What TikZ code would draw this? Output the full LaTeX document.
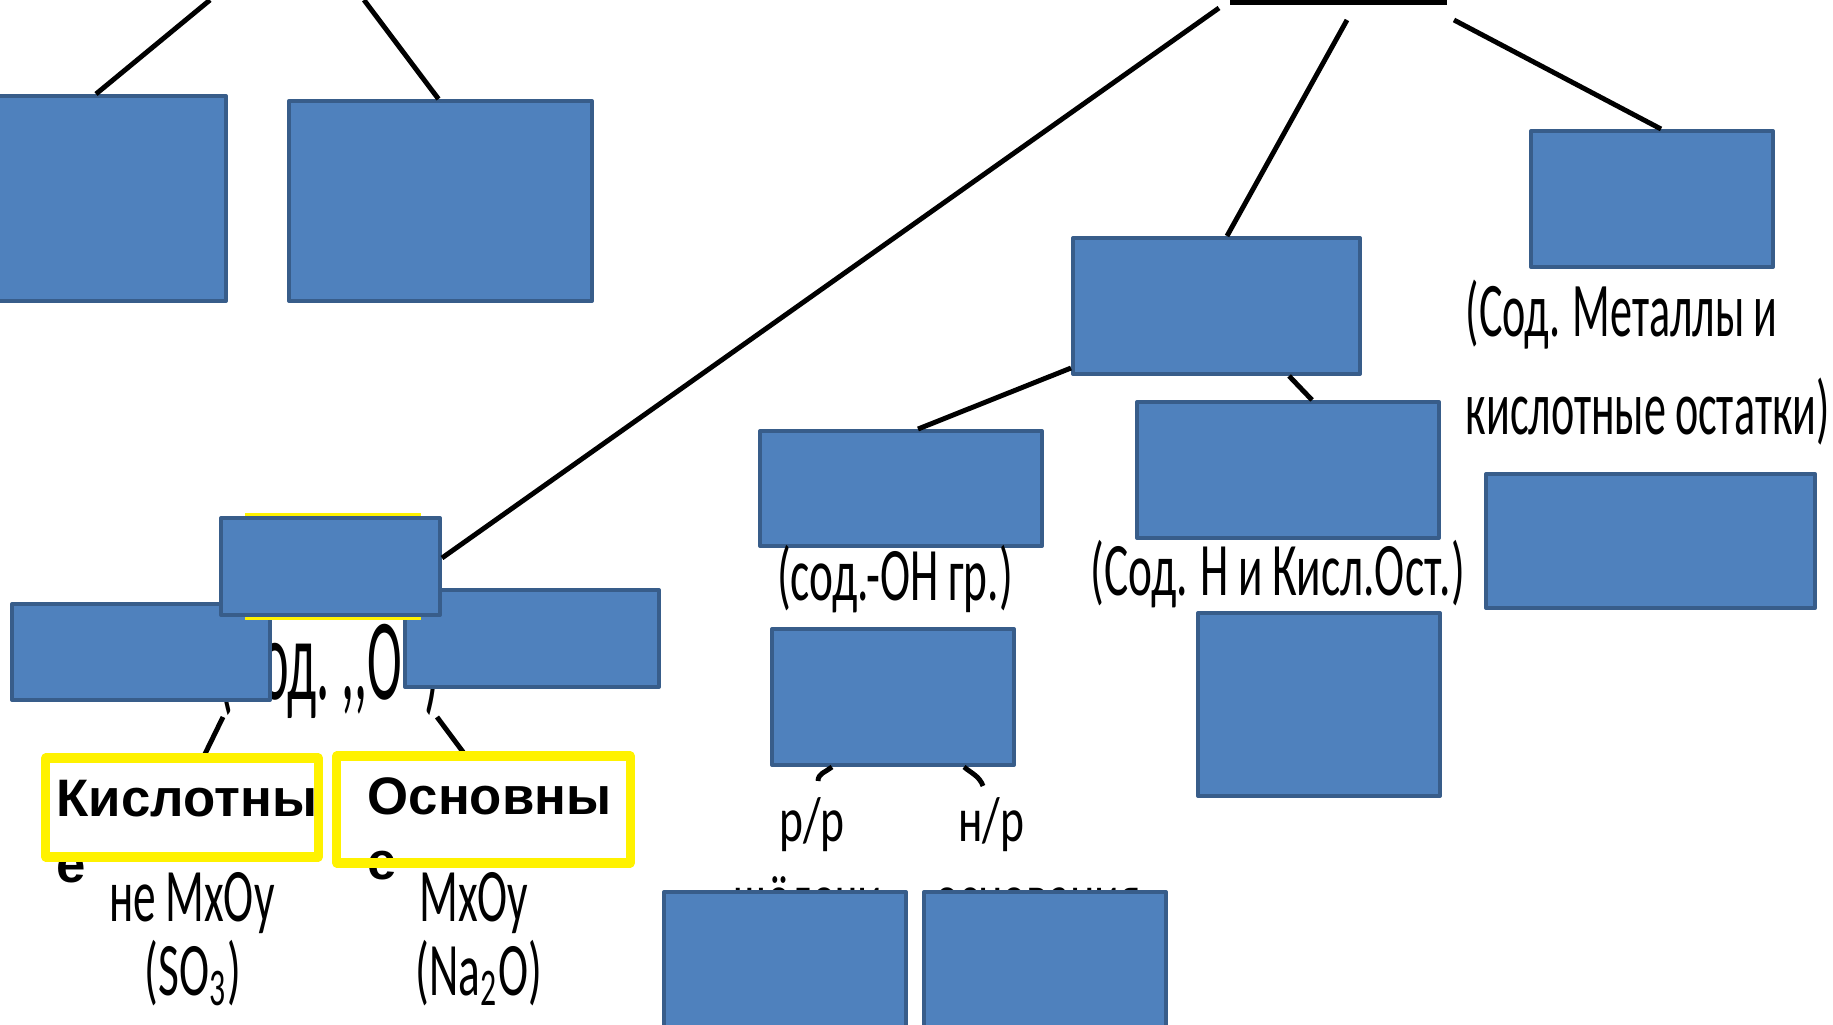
\documentclass[tikz,border=0pt]{standalone}
\usepackage{fontspec}
\newfontfamily\labfont[FakeStretch=0.72,WordSpace=0.85]{Carlito}
\newfontfamily\tallfont[FakeStretch=0.6,WordSpace=0.9]{Carlito}
\newfontfamily\metfont[FakeStretch=0.57,WordSpace=0.9]{Carlito}
\newfontfamily\oxfont[FakeStretch=0.45,WordSpace=0.7]{Carlito}
\newfontfamily\yfont{Liberation Sans}
\definecolor{boxfill}{RGB}{79,129,189}
\definecolor{boxline}{RGB}{56,93,138}
\tikzset{
  blk/.style={draw=boxline,fill=boxfill,line width=1.1pt,inner sep=0pt},
  con/.style={line width=1.4pt},
  lab/.style={inner sep=0pt,anchor=base,font=\tallfont\fontsize{21.5}{24}\selectfont},
  small lab/.style={lab,font=\labfont\fontsize{18}{21}\selectfont},
  ybox/.style={fill=white,inner sep=0pt,outer sep=0pt},
  yframe/.style={draw=yellow,line width=2.6pt},
  ytext/.style={inner sep=0pt,anchor=north west,align=left,font=\yfont\bfseries\fontsize{15}{18.6}\selectfont}
}

\begin{document}
\begin{tikzpicture}[x=0.01cm,y=-0.01cm,line join=round]
\clip (0,0) rectangle (1833,1025);
% labels that sit under the boxes
\node[lab,font=\oxfont\fontsize{33}{36}\selectfont,anchor=base east] (oxlab) at (441,700) {(Сод. ,,О“)};
\node[small lab] (alk) at (808,918) {щёлочи};
\node[small lab] (bas) at (1038,918) {основания};
% boxes
\fill (1230,-5) rectangle (1447,5);
\node[blk,minimum width=2.34cm,minimum height=2.05cm] (A) at (109,198.5) {};
\node[blk,minimum width=3.03cm,minimum height=2.00cm] (B) at (440.5,201) {};
\node[blk,minimum width=2.42cm,minimum height=1.36cm] (salt) at (1652,199) {};
\node[blk,minimum width=2.87cm,minimum height=1.36cm] (acid) at (1216.5,306) {};
\node[blk,minimum width=2.82cm,minimum height=1.15cm] (base) at (901,488.5) {};
\node[blk,minimum width=3.02cm,minimum height=1.36cm] (acid2) at (1288,470) {};
\node[blk,minimum width=3.29cm,minimum height=1.34cm] (salt2) at (1650.5,541) {};
\node[blk,minimum width=2.58cm,minimum height=0.96cm] (oxI) at (141,652) {};
\node[blk,minimum width=2.54cm,minimum height=0.97cm] (oxJ) at (532,638.5) {};
\fill[yellow] (245,513) rectangle (421,620);
\node[blk,minimum width=2.19cm,minimum height=0.97cm] (ox) at (330.5,566.5) {};
\node[blk,minimum width=2.42cm,minimum height=1.36cm] (base2) at (893,697) {};
\node[blk,minimum width=2.42cm,minimum height=1.83cm] (acid3) at (1319,704.5) {};
\node[blk,minimum width=2.42cm,minimum height=1.66cm] (alkbox) at (785,975) {};
\node[blk,minimum width=2.42cm,minimum height=1.66cm] (basbox) at (1045,975) {};
% labels
\node[lab,font=\metfont\fontsize{22}{25}\selectfont,anchor=base west] (met1) at (1465,337) {(Сод. Металлы и};
\node[lab,font=\metfont\fontsize{22}{25}\selectfont,anchor=base west] (met2) at (1465,435) {кислотные остатки)};
\node[lab] (ohlab) at (895,601) {(сод.-ОН гр.)};
\node[lab] (hlab) at (1278,596) {(Сод. Н и Кисл.Ост.)};
\node[small lab] (rrlab) at (812,842) {р/р};
\node[small lab] (nrlab) at (991,842) {н/р};
\node[lab] (so1) at (192,922) {не MxOy};
\node[lab] (so2) at (193,995) {(SO\textsubscript{3})};
\node[lab] (na1) at (474,922) {MxOy};
\node[lab] (na2) at (479,995) {(Na\textsubscript{2}O)};
% yellow boxes
\node[ybox,minimum width=2.72cm,minimum height=0.99cm] (Y1) at (182,807.5) {};
\node[ybox,minimum width=2.93cm,minimum height=1.07cm] (Y2) at (483.5,809.5) {};
\node[ytext] (Y1t) at (56,780) {Кислотны\\е};
\node[ytext] (Y2t) at (367,777) {Основны\\е};
% connectors
\coordinate (top1) at (210,0);
\coordinate (top2) at (364,0);
\coordinate (bar1) at (1219,8);
\coordinate (bar2) at (1347,20);
\coordinate (bar3) at (1454,20);
\coordinate (oxl) at (223,717);
\coordinate (oxr) at (437,717);
\coordinate (rr) at (818,781);
\coordinate (nr) at (983,786);
\draw[con] (top1) -- ([xshift=-0.13cm]A.north);
\draw[con] (top2) -- ([xshift=-0.02cm]B.north);
\draw[con] (bar1) -- ([yshift=0.085cm]ox.east);
\draw[con] (bar2) -- ([xshift=0.105cm]acid.north);
\draw[con] (bar3) -- ([xshift=0.09cm]salt.north);
\draw[con] ([yshift=-0.62cm]acid.west) -- ([xshift=0.17cm]base.north);
\draw[con] ([xshift=0.725cm]acid.south) -- ([xshift=0.24cm]acid2.north);
\draw[con] ([xshift=-0.61cm]base2.south) to[out=-140,in=90] (rr);
\draw[con] ([xshift=0.71cm]base2.south) to[out=-40,in=110] (nr);
\draw[con] (oxl) -- ([xshift=0.21cm]Y1.north);
\draw[con] (oxr) -- ([xshift=-0.175cm]Y2.north);
\draw[yframe] (Y1.north west) rectangle (Y1.south east);
\draw[yframe] (Y2.north west) rectangle (Y2.south east);
\end{tikzpicture}
\end{document}
